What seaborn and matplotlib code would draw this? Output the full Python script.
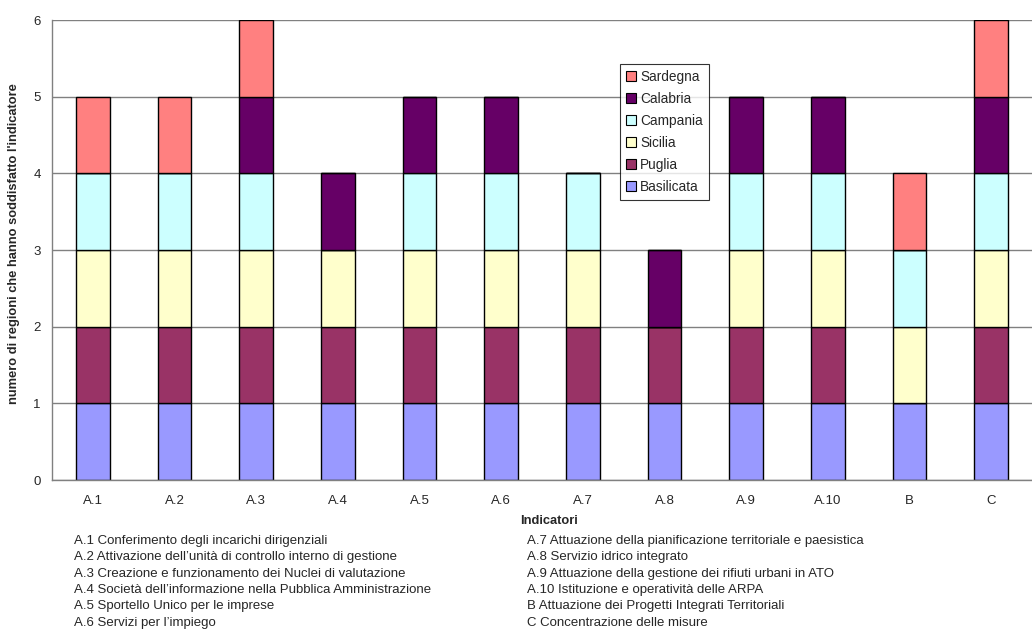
import numpy as np
import pandas as pd
import matplotlib
matplotlib.use("Agg")
import matplotlib.pyplot as plt
import seaborn as sns
from matplotlib.patches import Patch

categories = ["A.1", "A.2", "A.3", "A.4", "A.5", "A.6", "A.7", "A.8", "A.9", "A.10", "B", "C"]

basilicata = [1, 1, 1, 1, 1, 1, 1, 1, 1, 1, 1, 1]
puglia     = [1, 1, 1, 1, 1, 1, 1, 1, 1, 1, 0, 1]
sicilia    = [1, 1, 1, 1, 1, 1, 1, 0, 1, 1, 1, 1]
campania   = [1, 1, 1, 0, 1, 1, 1, 0, 1, 1, 1, 1]
calabria   = [0, 0, 1, 1, 1, 1, 0, 1, 1, 1, 0, 1]
sardegna   = [1, 1, 1, 0, 0, 0, 0, 0, 0, 0, 1, 1]

series_names = ["Basilicata", "Puglia", "Sicilia", "Campania", "Calabria", "Sardegna"]
series_values = [basilicata, puglia, sicilia, campania, calabria, sardegna]
series_colors = ["#9999FF", "#993366", "#FFFFCC", "#CCFFFF", "#660066", "#FF8080"]

notes_left = [
    "A.1 Conferimento degli incarichi dirigenziali",
    "A.2 Attivazione dell\u2019unità di controllo interno di gestione",
    "A.3 Creazione e funzionamento dei Nuclei di valutazione",
    "A.4 Società dell\u2019informazione nella Pubblica Amministrazione",
    "A.5 Sportello Unico per le imprese",
    "A.6 Servizi per l\u2019impiego",
]
notes_right = [
    "A.7 Attuazione della pianificazione territoriale e paesistica",
    "A.8 Servizio idrico integrato",
    "A.9 Attuazione della gestione dei rifiuti urbani in ATO",
    "A.10 Istituzione e operatività delle ARPA",
    "B Attuazione dei Progetti Integrati Territoriali",
    "C Concentrazione delle misure",
]

sns.set_theme(style="white")
plt.rcParams["font.family"] = ["Liberation Sans", "DejaVu Sans"]

fig = plt.figure(figsize=(10.32, 6.31), dpi=100)
ax = fig.add_axes([0.0504, 0.2393, 0.9496, 0.7290])

ax.yaxis.grid(True, color="#808080", linewidth=1.0)
ax.set_axisbelow(True)

bottom = np.zeros(len(categories))
for name, vals, col in zip(series_names, series_values, series_colors):
    vals = np.asarray(vals, dtype=float)
    df = pd.DataFrame({"cat": categories, "val": vals})
    sns.barplot(data=df, x="cat", y="val", order=categories, bottom=bottom,
                color=col, saturation=1, width=0.41, edgecolor="black",
                linewidth=1.0, ax=ax, errorbar=None)
    bottom = bottom + vals

ax.set_ylim(0, 6)
ax.set_xlim(-0.5, len(categories) - 0.5)
ax.set_yticks(range(0, 7))
ax.set_xticks(np.arange(-0.5, len(categories), 1.0), minor=False)
ax.set_xticklabels([])
ax.set_xticks(np.arange(len(categories)), minor=True)
ax.set_xticklabels(categories, minor=True)
ax.tick_params(axis="x", which="major", direction="out", length=5, width=1, color="#808080")
ax.tick_params(axis="x", which="minor", length=0, labelsize=9.5, pad=11)
ax.tick_params(axis="y", direction="out", length=5, width=1, color="#808080", labelsize=9.5, pad=3)

for side in ["top", "right"]:
    ax.spines[side].set_visible(False)
for side in ["left", "bottom"]:
    ax.spines[side].set_color("#808080")
    ax.spines[side].set_linewidth(1.0)

ax.set_xlabel("")
ax.set_ylabel("numero di regioni che hanno soddisfatto l'indicatore",
              fontsize=9.3, fontweight="bold")
ax.yaxis.set_label_coords(-0.033, 0.515)

handles = [Patch(facecolor=c, edgecolor="black", linewidth=0.8, label=n)
           for n, c in zip(series_names, series_colors)][::-1]
leg = fig.legend(handles=handles, loc="upper left", bbox_to_anchor=(0.6005, 0.8985),
                 fontsize=9.8, frameon=True, fancybox=False, borderpad=0.45,
                 handlelength=0.75, handleheight=0.75, handletextpad=0.3,
                 labelspacing=0.58, borderaxespad=0)
leg.get_frame().set_edgecolor("black")
leg.get_frame().set_linewidth(0.8)

fig.text(0.532, 0.1745, "Indicatori", ha="center", va="center", fontsize=9.3, fontweight="bold")

y0 = 0.1425
dy = 0.0259
for i, t in enumerate(notes_left):
    fig.text(0.0715, y0 - i * dy, t, ha="left", va="center", fontsize=9.5)
for i, t in enumerate(notes_right):
    fig.text(0.5105, y0 - i * dy, t, ha="left", va="center", fontsize=9.5)

fig.savefig("out.png", dpi=100, facecolor="white")
